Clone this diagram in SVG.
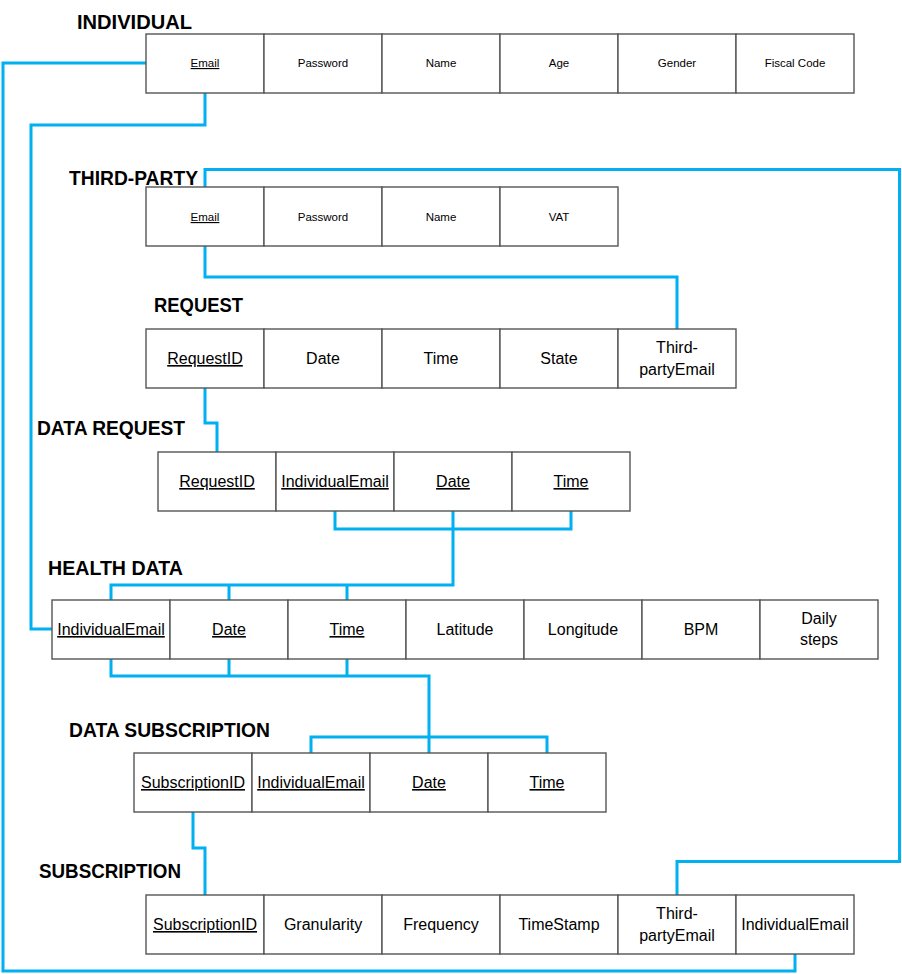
<svg xmlns="http://www.w3.org/2000/svg" width="902" height="974" viewBox="0 0 902 974">
<style>
.bg{fill:#ffffff}
.cell{fill:#ffffff;stroke:#555555;stroke-width:1.4}
.title{font-family:"Liberation Sans",Arial,sans-serif;font-weight:bold;font-size:20px;fill:#000}
.t{font-family:"Liberation Sans",Arial,sans-serif;font-size:16px;fill:#000;text-anchor:middle}
.s{font-family:"Liberation Sans",Arial,sans-serif;font-size:11.5px;fill:#000;text-anchor:middle}
.u{text-decoration:underline}
.conn{fill:none;stroke:#00B0F0;stroke-width:3;stroke-linejoin:miter;stroke-linecap:butt}
</style>
<rect class="bg" x="0" y="0" width="902" height="974"/>

<g id="connectors">
<path class="conn" d="M146,63 H3 V971 H795 V954"/>
<path class="conn" d="M205,93 V125 H31 V629 H52"/>
<path class="conn" d="M205,187 V169.5 H899.5 V861.5 H677 V895"/>
<path class="conn" d="M205,246 V277 H677 V329"/>
<path class="conn" d="M205,388 V423 H217 V452"/>
<path class="conn" d="M335,511 V529 H571 V511 M453,511 V585 H111 V600 M229,585 V600 M347,585 V600"/>
<path class="conn" d="M111,659 V676 H429 V753 M229,659 V676 M347,659 V676 M311,753 V737 H547 V753"/>
<path class="conn" d="M193,812 V848 H205 V895"/>
</g>

<g id="individual">
<text class="title" x="77" y="29" textLength="115" lengthAdjust="spacingAndGlyphs">INDIVIDUAL</text>
<rect class="cell" x="146" y="34" width="118" height="59"/>
<rect class="cell" x="264" y="34" width="118" height="59"/>
<rect class="cell" x="382" y="34" width="118" height="59"/>
<rect class="cell" x="500" y="34" width="118" height="59"/>
<rect class="cell" x="618" y="34" width="118" height="59"/>
<rect class="cell" x="736" y="34" width="118" height="59"/>
<text class="s u" x="205" y="67">Email</text>
<text class="s" x="323" y="67">Password</text>
<text class="s" x="441" y="67">Name</text>
<text class="s" x="559" y="67">Age</text>
<text class="s" x="677" y="67">Gender</text>
<text class="s" x="795" y="67">Fiscal Code</text>
</g>

<g id="third-party">
<text class="title" x="69" y="185" textLength="129" lengthAdjust="spacingAndGlyphs">THIRD-PARTY</text>
<rect class="cell" x="146" y="187" width="118" height="59"/>
<rect class="cell" x="264" y="187" width="118" height="59"/>
<rect class="cell" x="382" y="187" width="118" height="59"/>
<rect class="cell" x="500" y="187" width="118" height="59"/>
<text class="s u" x="205" y="221">Email</text>
<text class="s" x="323" y="221">Password</text>
<text class="s" x="441" y="221">Name</text>
<text class="s" x="559" y="221">VAT</text>
</g>

<g id="request">
<text class="title" x="154" y="312" textLength="89" lengthAdjust="spacingAndGlyphs">REQUEST</text>
<rect class="cell" x="146" y="329" width="118" height="59"/>
<rect class="cell" x="264" y="329" width="118" height="59"/>
<rect class="cell" x="382" y="329" width="118" height="59"/>
<rect class="cell" x="500" y="329" width="118" height="59"/>
<rect class="cell" x="618" y="329" width="118" height="59"/>
<text class="t u" x="205" y="364">RequestID</text>
<text class="t" x="323" y="364">Date</text>
<text class="t" x="441" y="364">Time</text>
<text class="t" x="559" y="364">State</text>
<text class="t" x="677" y="353">Third-</text>
<text class="t" x="677" y="375">partyEmail</text>
</g>

<g id="data-request">
<text class="title" x="37" y="435" textLength="148" lengthAdjust="spacingAndGlyphs">DATA REQUEST</text>
<rect class="cell" x="158" y="452" width="118" height="59"/>
<rect class="cell" x="276" y="452" width="118" height="59"/>
<rect class="cell" x="394" y="452" width="118" height="59"/>
<rect class="cell" x="512" y="452" width="118" height="59"/>
<text class="t u" x="217" y="487">RequestID</text>
<text class="t u" x="335" y="487">IndividualEmail</text>
<text class="t u" x="453" y="487">Date</text>
<text class="t u" x="571" y="487">Time</text>
</g>

<g id="health-data">
<text class="title" x="48" y="575" textLength="135" lengthAdjust="spacingAndGlyphs">HEALTH DATA</text>
<rect class="cell" x="52" y="600" width="118" height="59"/>
<rect class="cell" x="170" y="600" width="118" height="59"/>
<rect class="cell" x="288" y="600" width="118" height="59"/>
<rect class="cell" x="406" y="600" width="118" height="59"/>
<rect class="cell" x="524" y="600" width="118" height="59"/>
<rect class="cell" x="642" y="600" width="118" height="59"/>
<rect class="cell" x="760" y="600" width="118" height="59"/>
<text class="t u" x="111" y="635">IndividualEmail</text>
<text class="t u" x="229" y="635">Date</text>
<text class="t u" x="347" y="635">Time</text>
<text class="t" x="465" y="635">Latitude</text>
<text class="t" x="583" y="635">Longitude</text>
<text class="t" x="701" y="635">BPM</text>
<text class="t" x="819" y="624">Daily</text>
<text class="t" x="819" y="645">steps</text>
</g>

<g id="data-subscription">
<text class="title" x="69" y="737" textLength="201" lengthAdjust="spacingAndGlyphs">DATA SUBSCRIPTION</text>
<rect class="cell" x="134" y="753" width="118" height="59"/>
<rect class="cell" x="252" y="753" width="118" height="59"/>
<rect class="cell" x="370" y="753" width="118" height="59"/>
<rect class="cell" x="488" y="753" width="118" height="59"/>
<text class="t u" x="193" y="788">SubscriptionID</text>
<text class="t u" x="311" y="788">IndividualEmail</text>
<text class="t u" x="429" y="788">Date</text>
<text class="t u" x="547" y="788">Time</text>
</g>

<g id="subscription">
<text class="title" x="39" y="878" textLength="142" lengthAdjust="spacingAndGlyphs">SUBSCRIPTION</text>
<rect class="cell" x="146" y="895" width="118" height="59"/>
<rect class="cell" x="264" y="895" width="118" height="59"/>
<rect class="cell" x="382" y="895" width="118" height="59"/>
<rect class="cell" x="500" y="895" width="118" height="59"/>
<rect class="cell" x="618" y="895" width="118" height="59"/>
<rect class="cell" x="736" y="895" width="118" height="59"/>
<text class="t u" x="205" y="930">SubscriptionID</text>
<text class="t" x="323" y="930">Granularity</text>
<text class="t" x="441" y="930">Frequency</text>
<text class="t" x="559" y="930">TimeStamp</text>
<text class="t" x="677" y="919">Third-</text>
<text class="t" x="677" y="941">partyEmail</text>
<text class="t" x="795" y="930">IndividualEmail</text>
</g>
</svg>
